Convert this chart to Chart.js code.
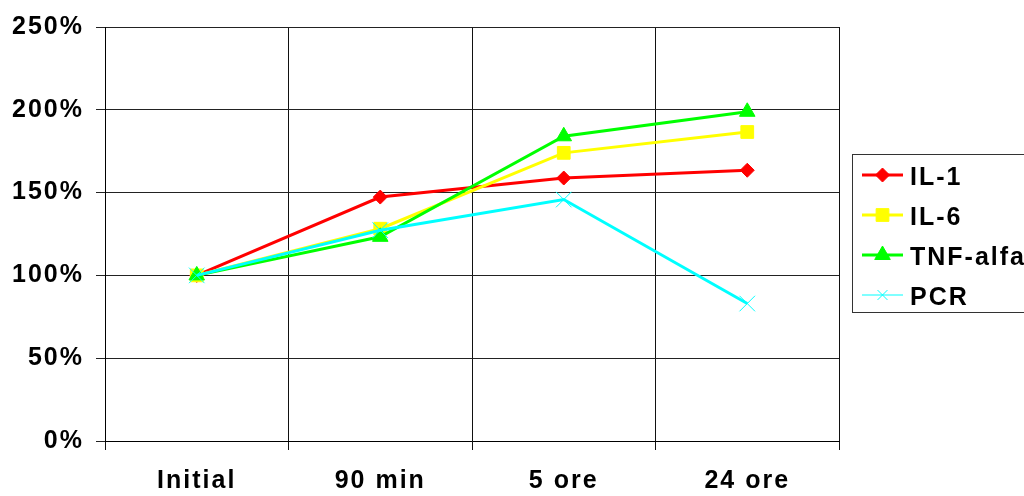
<!DOCTYPE html>
<html>
<head>
<meta charset="utf-8">
<script src="https://cdn.jsdelivr.net/npm/chart.js@4/dist/chart.umd.min.js"></script>
<style>
  html, body { margin: 0; padding: 0; background: #fff; }
  #wrap { width: 1024px; height: 496px; position: relative; }
</style>
</head>
<body>
<div id="wrap"><canvas id="myChart" width="1024" height="496"></canvas></div>
<script>
// data (percent of initial value)
const categories = ['Initial', '90 min', '5 ore', '24 ore'];
const il1 = [100, 147.3, 158.8, 163.5];
const il6 = [100, 128.2, 174, 186.6];
const tnf = [100, 123.3, 184, 198.8];
const pcr = [100, 127.3, 145.8, 83];
const yTicks = [0, 50, 100, 150, 200, 250];

const mainFont = '"Liberation Sans", Arial, sans-serif';

function series(label, data, color, style, radius, bw, order) {
  return {
    label: label,
    data: data,
    borderColor: color,
    backgroundColor: color,
    borderWidth: 3,
    pointStyle: style,
    pointRadius: radius,
    pointHoverRadius: radius,
    pointBorderWidth: bw,
    pointBorderColor: color,
    pointBackgroundColor: color,
    tension: 0,
    order: order
  };
}

// the original text is set a bit loose
const spacing = {
  id: 'spacing',
  beforeDraw(chart) { chart.ctx.letterSpacing = '2px'; }
};

// legend in a box on the right, partly cut off by the edge like the original
const boxLegend = {
  id: 'boxLegend',
  afterDraw(chart) {
    const ctx = chart.ctx;
    ctx.save();
    ctx.strokeStyle = '#333';
    ctx.lineWidth = 1;
    ctx.strokeRect(852.5, 154.5, 200, 158);
    const rows = [175, 215, 255, 295];
    chart.data.datasets.forEach(function (ds, i) {
      const y = rows[i];
      ctx.strokeStyle = ds.borderColor;
      ctx.lineWidth = ds.pointStyle === 'crossRot' ? 1 : 3;
      ctx.beginPath();
      ctx.moveTo(862, y);
      ctx.lineTo(903, y);
      ctx.stroke();
      ctx.fillStyle = ds.pointBackgroundColor;
      ctx.strokeStyle = ds.pointBorderColor;
      ctx.lineWidth = ds.pointBorderWidth;
      Chart.helpers.drawPoint(ctx, {
        pointStyle: ds.pointStyle,
        radius: ds.pointStyle === 'crossRot' ? 7 : ds.pointRadius,
        rotation: 0,
        borderWidth: ds.pointBorderWidth
      }, 882.5, y);
      ctx.fillStyle = '#000';
      ctx.font = 'bold 25px ' + mainFont;
      ctx.letterSpacing = '2px';
      ctx.textAlign = 'left';
      ctx.textBaseline = 'alphabetic';
      ctx.fillText(ds.label, 910, y + 10);
    });
    ctx.restore();
  }
};

var ctx = document.getElementById('myChart').getContext('2d');
const myChart = new Chart(ctx, {
  type: 'line',
  data: {
    labels: categories,
    datasets: [
      series('IL-1', il1, '#FF0000', 'rectRot', 7, 1, 3),
      series('IL-6', il6, '#FFFF00', 'rect', 9, 1, 2),
      series('TNF-alfa', tnf, '#00FF00', 'triangle', 9, 1, 1),
      series('PCR', pcr, '#00FFFF', 'crossRot', 11, 1, 0)
    ]
  },
  options: {
    responsive: false,
    animation: false,
    events: [],
    layout: { padding: { top: 22, right: 185, left: 0, bottom: 0 } },
    plugins: {
      legend: { display: false },
      tooltip: { enabled: false }
    },
    scales: {
      x: {
        offset: true,
        grid: {
          offset: true,
          color: '#111',
          lineWidth: 1,
          tickLength: 9
        },
        border: { color: '#000', width: 1 },
        ticks: {
          color: '#000',
          padding: 16,
          maxRotation: 0,
          font: { family: mainFont, size: 25, weight: 'bold' }
        },
        afterFit(scale) { scale.height = 55; }
      },
      y: {
        min: 0,
        max: 250,
        afterBuildTicks(scale) {
          scale.ticks = yTicks.map(function (v) { return { value: v }; });
        },
        grid: {
          color: '#222',
          lineWidth: 1,
          tickLength: 9
        },
        border: { color: '#000', width: 1 },
        ticks: {
          color: '#000',
          padding: 12,
          font: { family: mainFont, size: 25, weight: 'bold' },
          callback: function (v) { return v + '%'; }
        },
        afterFit(scale) { scale.width = 105; }
      }
    }
  },
  plugins: [spacing, boxLegend]
});
</script>
</body>
</html>
